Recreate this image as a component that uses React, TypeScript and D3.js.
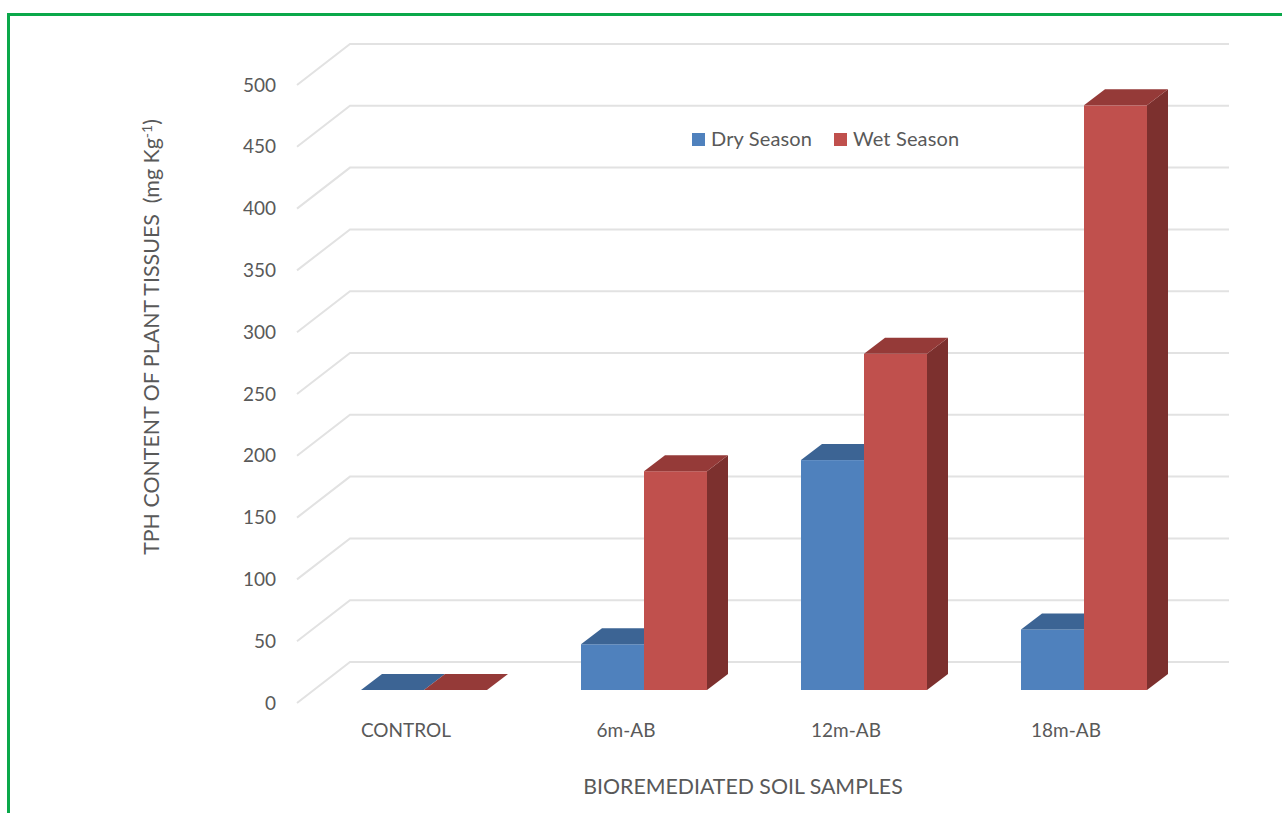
import React from "react";
import * as d3 from "d3";

const categories = ["CONTROL", "6m-AB", "12m-AB", "18m-AB"];
const seriesNames = ["Dry Season", "Wet Season"];
const drySeason = [0, 37, 186, 49];
const wetSeason = [0, 177, 272, 473];
const yTicks = [0, 50, 100, 150, 200, 250, 300, 350, 400, 450, 500];

const FONT = "Lato, 'Open Sans', sans-serif";
const TEXT = "#595959";
const GRID = "#e2e2e2";
const FRONT = ["#4f81bd", "#c0504d"];
const TOP = ["#3c6494", "#953a38"];
const SIDE = ["#355a86", "#7c302e"];

// Oblique depth of the floor and of each bar block.
const FLOOR_DX = 53;
const FLOOR_DY = 41;
const BAR_DX = 21;
const BAR_DY = 16;

export default function App() {
  const yFront = d3.scaleLinear().domain([0, 500]).range([703, 85]);
  const yBar = d3.scaleLinear().domain([0, 500]).range([690, 72]);
  const xBand = d3.scaleBand().domain(categories).range([314, 1194]);
  const xSeries = d3
    .scaleBand()
    .domain(seriesNames)
    .range([47, xBand.bandwidth() - 47]);
  const gridPath = d3.line();
  const base = yBar(0);

  const block = (cat: string, s: number, v: number) => {
    const x0 = (xBand(cat) as number) + (xSeries(seriesNames[s]) as number);
    const x1 = x0 + xSeries.bandwidth();
    const y = yBar(v);
    const poly = d3.line();
    return (
      <g key={cat + s}>
        {v > 0 && <rect x={x0} y={y} width={x1 - x0} height={base - y} fill={FRONT[s]} />}
        <path
          d={poly([[x1, y], [x1 + BAR_DX, y - BAR_DY], [x1 + BAR_DX, base - BAR_DY], [x1, base]]) + "Z"}
          fill={SIDE[s]}
        />
        <path
          d={poly([[x0, y], [x0 + BAR_DX, y - BAR_DY], [x1 + BAR_DX, y - BAR_DY], [x1, y]]) + "Z"}
          fill={TOP[s]}
        />
      </g>
    );
  };

  return (
    <svg
      width={1282}
      height={813}
      viewBox="0 0 1282 813"
      style={{ position: "absolute", left: 0, top: 0, background: "#fff" }}
      fontFamily={FONT}
    >
      {/* Page frame, open on the right and at the bottom */}
      <path d="M8.5 813V14.5H1282" fill="none" stroke="#0aa84a" strokeWidth={3} />

      {/* Back wall and floor grid lines */}
      {yTicks.map((t) => (
        <path
          key={t}
          d={
            gridPath([
              [297, yFront(t)],
              [297 + FLOOR_DX, yFront(t) - FLOOR_DY],
              [1229, yFront(t) - FLOOR_DY],
            ]) as string
          }
          fill="none"
          stroke={GRID}
          strokeWidth={2}
        />
      ))}

      {yTicks.map((t) => (
        <text key={t} x={276} y={yFront(t)} dy="0.35em" textAnchor="end" fontSize={19} fill={TEXT}>
          {t}
        </text>
      ))}

      {categories.map((c, i) => block(c, 0, drySeason[i]))}
      {categories.map((c, i) => block(c, 1, wetSeason[i]))}

      {categories.map((c) => (
        <text
          key={c}
          x={(xBand(c) as number) + xBand.bandwidth() / 2 - 18}
          y={737}
          textAnchor="middle"
          fontSize={19}
          fill={TEXT}
        >
          {c}
        </text>
      ))}

      <text x={743} y={794} textAnchor="middle" fontSize={21.3} fill={TEXT}>
        BIOREMEDIATED SOIL SAMPLES
      </text>

      <text transform="translate(159,337) rotate(-90)" textAnchor="middle" fontSize={21.4} fill={TEXT} xmlSpace="preserve">
        TPH CONTENT OF PLANT TISSUES{"  "}(mg Kg
        <tspan dy={-7} fontSize={14}>-1</tspan>
        <tspan dy={7}>)</tspan>
      </text>

      {/* Legend */}
      {seriesNames.map((n, i) => {
        const lx = [692, 834][i];
        return (
          <g key={n}>
            <rect x={lx} y={133} width={13} height={13} fill={FRONT[i]} />
            <text x={lx + 19} y={146} fontSize={20} letterSpacing={0.15} fill={TEXT}>
              {n}
            </text>
          </g>
        );
      })}
    </svg>
  );
}
